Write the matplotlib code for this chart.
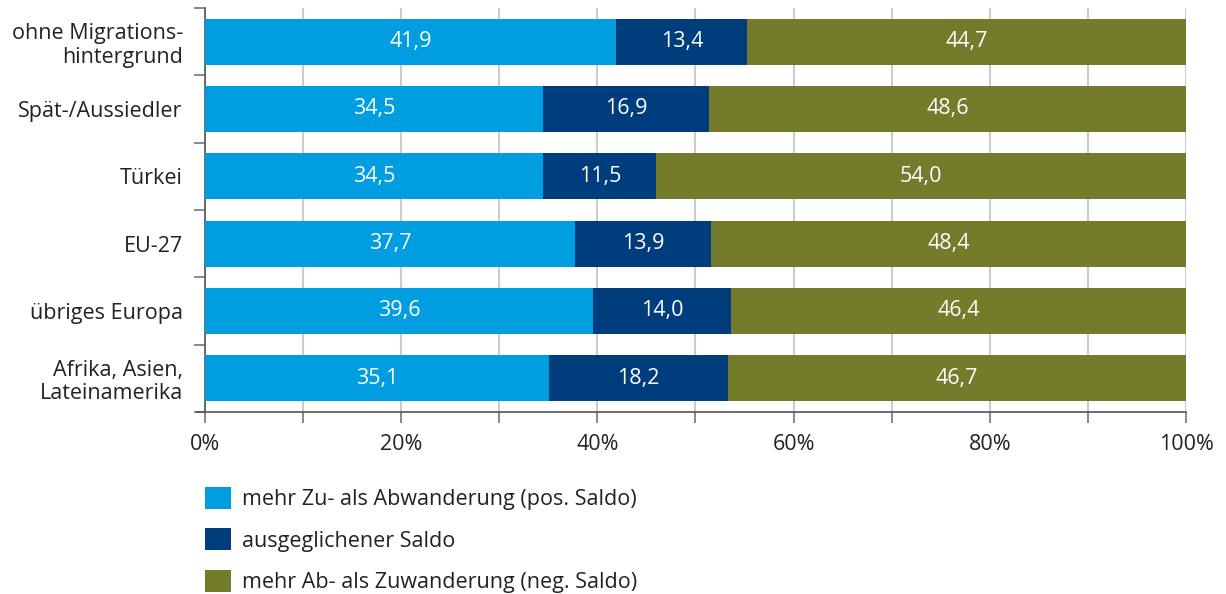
import matplotlib.pyplot as plt
import numpy as np

plt.rcParams['font.family'] = ['Open Sans', 'DejaVu Sans']

categories = ['ohne Migrations-\nhintergrund', 'Spät-/Aussiedler', 'Türkei',
              'EU-27', 'übriges Europa', 'Afrika, Asien,\nLateinamerika']
pos_saldo = [41.9, 34.5, 34.5, 37.7, 39.6, 35.1]
ausgeglichen = [13.4, 16.9, 11.5, 13.9, 14.0, 18.2]
neg_saldo = [44.7, 48.6, 54.0, 48.4, 46.4, 46.7]

series = [
    ('mehr Zu- als Abwanderung (pos. Saldo)', pos_saldo, '#009ee0'),
    ('ausgeglichener Saldo', ausgeglichen, '#003d7c'),
    ('mehr Ab- als Zuwanderung (neg. Saldo)', neg_saldo, '#747c2c'),
]

fs = 15.5

fig = plt.figure(figsize=(12.26, 5.94), dpi=100)
ax = fig.add_axes([205 / 1226, 1 - 412 / 594, 981 / 1226, 404 / 594])

y = np.arange(len(categories))
left = np.zeros(len(categories))
handles = []
for label, vals, col in series:
    vals = np.array(vals)
    h = ax.barh(y, vals, left=left, height=0.68, color=col, label=label, zorder=3)
    handles.append(h)
    for yi, l, v in zip(y, left, vals):
        ax.text(l + v / 2, yi, f'{v:.1f}'.replace('.', ','), ha='center', va='center',
                color='white', fontsize=fs, zorder=4)
    left += vals

ax.set_ylim(len(categories) - 0.5, -0.5)
ax.set_xlim(0, 100)
ax.set_xticks(np.arange(0, 101, 10))
ax.set_xticklabels([f'{v}%' if v % 20 == 0 else '' for v in range(0, 101, 10)], fontsize=fs,
                   color='#222222')
ax.set_yticks(y)
ax.set_yticklabels(categories, fontsize=fs, color='#222222', ha='right', linespacing=1.15)
ax.set_yticks(np.arange(-0.5, len(categories), 1), minor=True)
ax.tick_params(axis='y', which='major', length=0, pad=16)
ax.tick_params(axis='y', which='minor', length=8, color='#777777', width=1.2)
ax.tick_params(axis='x', length=8, color='#777777', width=1.2, pad=8)
ax.grid(axis='x', color='#cccccc', linewidth=1.5, zorder=0)
for s in ['top', 'right']:
    ax.spines[s].set_visible(False)
for s in ['left', 'bottom']:
    ax.spines[s].set_color('#555555')
    ax.spines[s].set_linewidth(1.2)
ax.spines['bottom'].set_bounds(-0.8, 100)

ax.legend(handles=handles, loc='upper left', bbox_to_anchor=(0, -0.185), frameon=False,
          fontsize=fs, handlelength=1.2, handleheight=1.2, handletextpad=0.5,
          labelspacing=0.85, borderaxespad=0, borderpad=0, labelcolor='#222222')

fig.savefig('out.png', dpi=100)
